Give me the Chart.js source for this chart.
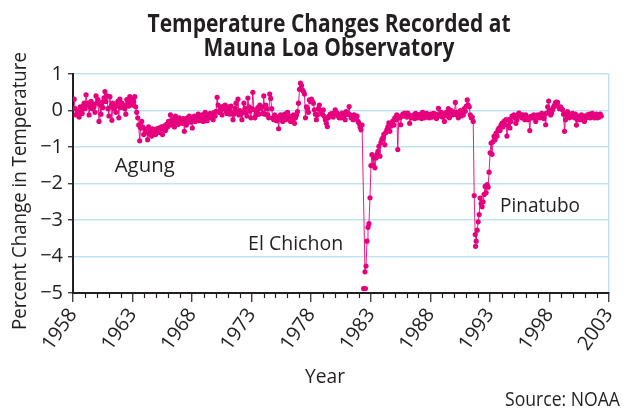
<!DOCTYPE html>
<html>
<head>
<meta charset="utf-8">
<script src="https://cdn.jsdelivr.net/npm/chart.js@4.4.0/dist/chart.umd.min.js"></script>
<style>
  html, body { margin: 0; padding: 0; background: #fff; }
</style>
</head>
<body>
<canvas id="chart" width="624" height="415"></canvas>
<script>
// monthly readings, first one at 1958.1, one row per year
const firstReading = 1958.1;
const readings1958to1969 = [
  0.31, 0.05, -0.12, -0.05, 0.0, -0.18, 0.1, 0.02, -0.08, 0.12, 0.2, 0.05,
  0.43, 0.15, 0.2, -0.12, 0.1, 0.25, 0.05, 0.18, 0.1, -0.05, 0.4, 0.2,
  0.3, -0.3, 0.15, -0.1, 0.22, 0.08, 0.35, 0.52, 0.25, 0.4, 0.05, -0.15,
  0.38, 0.1, -0.27, 0.2, 0.05, 0.15, -0.05, 0.12, 0.25, -0.2, 0.31, 0.08,
  0.2, 0.1, 0.15, 0.05, -0.1, 0.3, 0.22, 0.12, 0.38, 0.25, 0.3, 0.15,
  0.25, 0.38, 0.1, -0.05, -0.2, -0.4, -0.83, -0.48, -0.3, -0.45, -0.66, -0.5,
  -0.55, -0.6, -0.8, -0.45, -0.65, -0.55, -0.7, -0.5, -0.62, -0.58, -0.66, -0.5,
  -0.55, -0.48, -0.6, -0.52, -0.45, -0.66, -0.5, -0.42, -0.55, -0.38, -0.45, -0.3,
  -0.35, -0.12, -0.4, -0.25, -0.35, -0.45, -0.15, -0.3, -0.25, -0.38, -0.2, -0.3,
  -0.28, -0.35, -0.22, -0.57, -0.3, -0.4, -0.2, -0.25, -0.15, -0.32, -0.2, -0.48,
  -0.28, -0.15, -0.3, -0.2, -0.22, -0.1, -0.28, -0.18, -0.25, -0.12, -0.3, -0.2,
  -0.05, -0.15, -0.28, -0.12, -0.18, -0.08, -0.2, -0.1, -0.25, -0.05, -0.15, -0.02
];
const readings1970to1981 = [
  0.36, 0.15, -0.05, 0.02, 0.1, -0.12, 0.05, 0.12, 0.15, -0.02, -0.08, 0.1,
  0.05, -0.1, 0.12, -0.05, -0.25, -0.1, 0.05, 0.2, -0.05, 0.31, -0.12, 0.0,
  -0.1, -0.25, -0.05, 0.2, 0.05, -0.05, -0.15, 0.34, 0.1, -0.02, -0.2, 0.05,
  0.5, 0.02, -0.2, -0.12, -0.05, 0.08, -0.1, 0.15, 0.05, 0.1, -0.08, 0.4,
  -0.1, 0.15, 0.05, -0.12, -0.2, 0.45, 0.33, 0.05, -0.2, -0.25, -0.12, -0.15,
  -0.28, -0.2, -0.5, -0.18, -0.12, -0.25, -0.3, -0.2, -0.1, -0.25, -0.15, -0.05,
  -0.2, -0.15, -0.3, -0.18, -0.25, -0.12, -0.35, -0.2, -0.12, -0.03, 0.2, 0.58,
  0.75, 0.68, 0.56, 0.52, 0.45, -0.2, 0.1, 0.06, -0.05, 0.29, 0.25, 0.31,
  0.25, 0.2, 0.02, -0.1, -0.25, -0.12, 0.05, 0.15, 0.0, -0.03, -0.1, 0.02,
  -0.16, -0.25, -0.35, -0.44, -0.2, -0.15, -0.1, -0.12, -0.08, -0.18, -0.1, 0.02,
  -0.05, -0.07, -0.15, -0.2, -0.12, -0.2, -0.07, -0.15, -0.1, -0.25, -0.03, -0.1,
  -0.1, 0.11, -0.12, -0.2, -0.15, -0.25, -0.12, -0.18, -0.22, -0.15, -0.3, -0.35
];
const readings1982to1991 = [
  -0.45, -0.53, -0.4, null, null, -4.42, -4.26, -3.58, -3.2, -3.1, -2.39, -1.51,
  -1.21, -1.5, -1.3, -1.57, -1.3, -1.2, -1.12, -0.98, -1.25, -0.88, -0.8, -0.75,
  -0.65, -0.94, -0.6, -0.53, -0.45, -0.34, -0.57, -0.43, -0.35, -0.29, -0.4, -0.2,
  -0.25, -0.12, -1.07, -0.16, -0.2, -0.39, -0.16, -0.1, -0.15, -0.07, -0.12, -0.18,
  -0.07, -0.12, -0.35, -0.15, -0.2, -0.16, -0.12, -0.22, -0.08, -0.15, -0.2, -0.12,
  -0.15, -0.1, -0.22, -0.05, -0.12, -0.2, -0.15, -0.08, -0.18, -0.12, -0.2, -0.1,
  -0.12, -0.18, -0.08, -0.15, -0.1, -0.22, -0.12, 0.06, -0.15, -0.1, -0.05, -0.18,
  -0.12, -0.3, -0.1, -0.05, -0.15, 0.05, -0.2, -0.08, 0.0, -0.12, -0.05, -0.1,
  0.22, -0.05, -0.12, -0.2, -0.1, 0.0, -0.15, -0.08, -0.12, 0.05, -0.02, 0.12,
  0.29, 0.15, 0.1, -0.12, -0.2, -0.18, -0.3, -2.33, -3.4, -3.58, -3.28, -3.05
];
const readings1992to2002 = [
  -2.85, -2.4, -2.55, -2.64, -2.5, -2.3, -2.08, -2.25, -2.03, -2.1, -1.69, -1.16,
  -0.89, -1.2, -0.85, -0.71, -0.8, -0.62, -0.7, -0.53, -0.48, -0.55, -0.4, -0.35,
  -0.45, -0.3, -0.38, -0.25, -0.7, -0.4, -0.25, -0.48, -0.3, -0.15, -0.16, -0.12,
  -0.2, -0.35, -0.25, -0.12, -0.07, -0.15, -0.12, -0.2, -0.12, -0.18, -0.25, -0.12,
  -0.2, -0.25, -0.2, -0.55, -0.16, -0.2, -0.2, -0.12, -0.16, -0.3, -0.2, -0.12,
  -0.15, -0.2, -0.12, -0.08, -0.16, -0.22, -0.1, -0.39, -0.07, 0.1, 0.26, 0.02,
  -0.12, -0.07, 0.02, 0.1, 0.15, 0.22, 0.23, 0.22, 0.1, 0.05, 0.1, 0.05,
  0.02, -0.1, -0.57, -0.25, -0.12, -0.03, -0.12, -0.2, -0.1, -0.15, -0.08, -0.12,
  -0.2, -0.1, -0.4, -0.25, -0.15, -0.2, -0.25, -0.12, -0.2, -0.15, -0.3, -0.15,
  -0.2, -0.12, -0.18, -0.1, -0.2, -0.15, -0.08, -0.12, -0.2, -0.15, -0.1, -0.2,
  -0.12, -0.18, -0.1, -0.15
];
// readings that sit off the joined line
const looseTimes = [1982.4, 1982.55, 1991.8];
const looseValues = [-4.88, -4.88, -3.72];

const yearLabels = ['1958', '1963', '1968', '1973', '1978', '1983', '1988', '1993', '1998', '2003'];
const eventNames = ['Agung', 'El Chichon', 'Pinatubo'];

const MAGENTA = '#e6007e';
const GRID = '#bfe3f3';
const INK = '#231f20';
const FONT = '"Open Sans", "Noto Sans", sans-serif';

const readings = [].concat(readings1958to1969, readings1970to1981, readings1982to1991, readings1992to2002);
const linePoints = readings.map((v, i) => ({ x: firstReading + i / 12, y: v }));
const loosePoints = looseTimes.map((t, i) => ({ x: t, y: looseValues[i] }));

// draws text squeezed/stretched to a set width
function fitText(ctx, text, x, y, width, align) {
  const w = ctx.measureText(text).width;
  ctx.save();
  ctx.translate(x, y);
  ctx.scale(width / w, 1);
  ctx.textAlign = align;
  ctx.fillText(text, 0, 0);
  ctx.restore();
}

const labelsPlugin = {
  id: 'labels',
  afterDraw(chart) {
    const ctx = chart.ctx;
    const xs = chart.scales.x, ys = chart.scales.y;
    ctx.save();

    // minor year ticks
    ctx.strokeStyle = INK;
    ctx.lineWidth = 1.2;
    const base = chart.chartArea.bottom;
    for (let yr = 1958; yr <= 2003; yr++) {
      if (yearLabels.includes(String(yr))) continue;
      const px = Math.round(xs.getPixelForValue(yr)) + 0.5;
      ctx.beginPath();
      ctx.moveTo(px, base);
      ctx.lineTo(px, base + 5);
      ctx.stroke();
    }

    ctx.fillStyle = INK;
    ctx.textBaseline = 'alphabetic';

    // title
    ctx.font = 'bold 25px ' + FONT;
    fitText(ctx, 'Temperature Changes Recorded at', 329, 32, 363, 'center');
    fitText(ctx, 'Mauna Loa Observatory', 329, 56, 251, 'center');

    // axis titles and source
    ctx.font = '20px ' + FONT;
    ctx.save();
    ctx.translate(26, 191);
    ctx.rotate(-Math.PI / 2);
    fitText(ctx, 'Percent Change in Temperature', 0, 0, 278, 'center');
    ctx.restore();
    fitText(ctx, 'Year', 325, 383, 40, 'center');
    fitText(ctx, 'Source: NOAA', 620, 406, 115, 'right');

    // eruption names, anchored in data units
    const anchors = [[1961.5, -1.69, 60], [1972.7, -3.83, 95], [1993.85, -2.77, 80]];
    eventNames.forEach((name, i) => {
      const a = anchors[i];
      fitText(ctx, name, xs.getPixelForValue(a[0]), ys.getPixelForValue(a[1]), a[2], 'left');
    });
    ctx.restore();
  }
};

new Chart(document.getElementById('chart'), {
  type: 'scatter',
  data: {
    datasets: [
      {
        data: linePoints,
        showLine: true,
        spanGaps: true,
        borderColor: MAGENTA,
        borderWidth: 0.9,
        pointRadius: 2.6,
        pointBorderWidth: 0,
        pointBackgroundColor: MAGENTA
      },
      {
        data: loosePoints,
        showLine: false,
        pointRadius: 2.6,
        pointBorderWidth: 0,
        pointBackgroundColor: MAGENTA
      }
    ]
  },
  options: {
    responsive: false,
    animation: false,
    layout: { padding: { top: 74, right: 15, bottom: 0, left: 0 } },
    plugins: { legend: { display: false }, tooltip: { enabled: false }, title: { display: false } },
    scales: {
      x: {
        type: 'linear',
        min: 1958,
        max: 2003,
        afterBuildTicks: s => { s.ticks = []; for (let yr = 1958; yr <= 2003; yr++) s.ticks.push({ value: yr }); },
        afterFit: s => { s.height = 122; s.paddingLeft = 0; s.paddingRight = 0; },
        ticks: {
          autoSkip: false,
          minRotation: 55,
          maxRotation: 55,
          padding: 2,
          color: INK,
          font: { family: FONT, size: 20 },
          callback: v => yearLabels.includes(String(v)) ? String(v) : ''
        },
        grid: {
          drawOnChartArea: true,
          color: c => (c.tick && c.tick.value === 2003) ? GRID : 'rgba(0,0,0,0)',
          lineWidth: 1.5,
          tickLength: 9,
          tickWidth: 1.2,
          tickColor: c => (c.tick && yearLabels.includes(String(c.tick.value))) ? INK : 'rgba(0,0,0,0)'
        },
        border: { color: INK, width: 2 }
      },
      y: {
        min: -5,
        max: 1,
        afterFit: s => { s.width = 73; s.paddingTop = 0; s.paddingBottom = 0; },
        ticks: {
          stepSize: 1,
          padding: 5,
          color: INK,
          font: { family: FONT, size: 20 },
          callback: v => v < 0 ? '\u2212' + Math.abs(v) : String(v)
        },
        grid: {
          color: c => (c.tick && c.tick.value === -5) ? 'rgba(0,0,0,0)' : GRID,
          lineWidth: 1.5,
          tickLength: 5,
          tickWidth: 1.2,
          tickColor: INK
        },
        border: { color: INK, width: 2 }
      }
    }
  },
  plugins: [labelsPlugin]
});
</script>
</body>
</html>
